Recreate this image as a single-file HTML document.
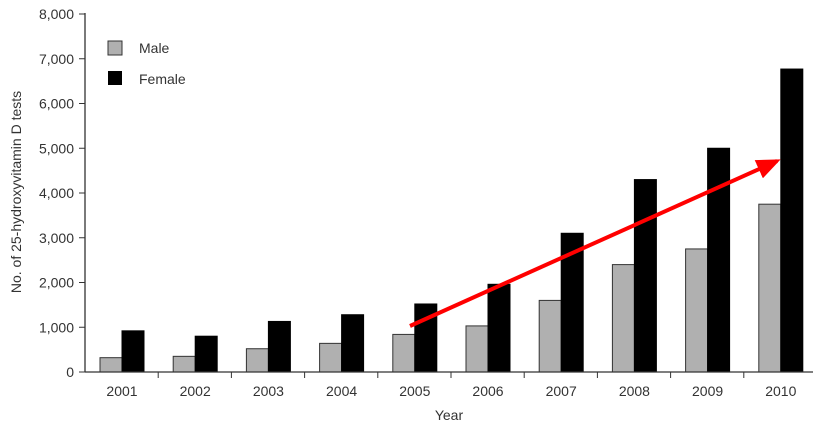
<!DOCTYPE html>
<html><head><style>body{margin:0;background:#fff}svg{display:block}text{font-family:"Liberation Sans",sans-serif;fill:#333}</style></head>
<body>
<svg width="813" height="433" viewBox="0 0 813 433">
<defs><marker id="ah" markerWidth="6" markerHeight="5" refX="5" refY="2.5" orient="auto"><path d="M0,0 L6,2.5 L0,5 z" fill="#f00"/></marker></defs>
<g id="bars"></g>
<line x1="85" y1="13" x2="85" y2="372" stroke="#333" stroke-width="1.3"/>
<line x1="85" y1="372" x2="813" y2="372" stroke="#333" stroke-width="1.3"/>
<g id="ticks"></g>
<text transform="translate(21,192) rotate(-90)" text-anchor="middle" font-size="14">No. of 25-hydroxyvitamin D tests</text>
<text x="449" y="420" text-anchor="middle" font-size="14">Year</text>
<rect x="108" y="41" width="14" height="14" fill="#b0b0b0" stroke="#333"/>
<rect x="108" y="71" width="14" height="14" fill="#000"/>
<text x="139" y="53" font-size="14">Male</text>
<text x="139" y="84" font-size="14">Female</text>
<line x1="410" y1="326" x2="777" y2="161" stroke="#f00" stroke-width="4" marker-end="url(#ah)"/>
</svg>
<script>
var m=[320,350,520,640,840,1030,1600,2400,2750,3750],f=[920,800,1130,1280,1520,1960,3100,4300,5000,6770];
var s='',t='',y=v=>372-v*358/8000;
for(var i=0;i<10;i++){var x=85+i*73.2;
s+=`<rect x="${x+15}" y="${y(m[i])}" width="22" height="${372-y(m[i])}" fill="#b0b0b0" stroke="#333"/>`;
s+=`<rect x="${x+37}" y="${y(f[i])}" width="22" height="${372-y(f[i])}" fill="#000" stroke="#000"/>`;
t+=`<line x1="${x+73.2}" y1="372" x2="${x+73.2}" y2="378" stroke="#333"/>`;
t+=`<text x="${x+37}" y="396" text-anchor="middle" font-size="14">${2001+i}</text>`;}
for(var k=0;k<=8;k++){var yy=y(k*1000);t+=`<line x1="79" y1="${yy}" x2="85" y2="${yy}" stroke="#333"/><text x="74" y="${yy+5}" text-anchor="end" font-size="14">${k?k+',000':0}</text>`;}
document.getElementById('bars').innerHTML=s;document.getElementById('ticks').innerHTML=t;
</script>
</body></html>
